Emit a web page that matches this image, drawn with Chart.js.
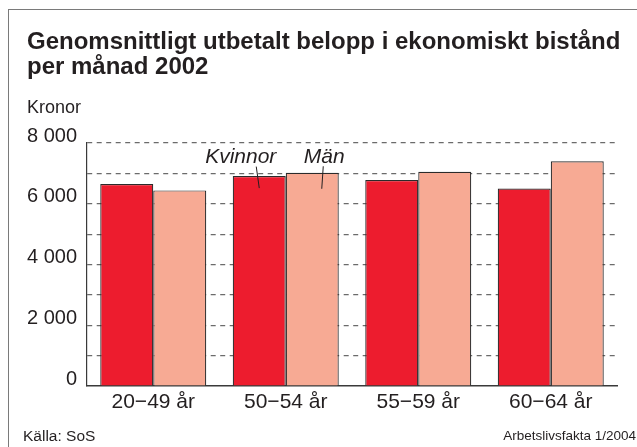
<!DOCTYPE html>
<html lang="sv">
<head>
<meta charset="utf-8">
<title>Ekonomiskt bistånd 2002</title>
<script src="https://cdn.jsdelivr.net/npm/chart.js@4/dist/chart.umd.min.js"></script>
<style>
  html, body { margin: 0; padding: 0; background: #fff; }
  body { width: 637px; height: 447px; position: relative; overflow: hidden;
         font-family: "Liberation Sans", Arial, sans-serif; color: #231f20; }
  #ram { position: absolute; left: 8px; top: 9px; right: -5px; bottom: -5px;
         border-left: 1.5px solid #7a7a7a; border-top: 1.5px solid #7a7a7a; }
  #rubrik { position: absolute; left: 27px; top: 28px; font-size: 24px; line-height: 25px;
            font-weight: bold; white-space: nowrap; }
  #enhet { position: absolute; left: 27px; top: 98px; font-size: 18px; line-height: 18px; }
  #kalla { position: absolute; left: 23px; top: 428px; font-size: 15.5px; line-height: 15px; }
  #kalla2 { position: absolute; right: 1px; top: 429px; font-size: 13.5px; line-height: 14px; }
  #diagram { position: absolute; left: 0; top: 0; width: 637px; height: 447px; }
</style>
</head>
<body>
<div id="ram"></div>
<div id="diagram"><canvas id="grafico"></canvas></div>
<div id="rubrik">Genomsnittligt utbetalt belopp i ekonomiskt bistånd<br>per månad 2002</div>
<div id="enhet">Kronor</div>
<div id="kalla">Källa: SoS</div>
<div id="kalla2">Arbetslivsfakta 1/2004</div>

<script>
// data
const kategorier = ['20\u221249 år', '50\u221254 år', '55\u221259 år', '60\u221264 år'];
const kvinnor = [6650, 6910, 6780, 6500];
const man = [6440, 7020, 7050, 7400];
const yTicks = [0, 2000, 4000, 6000, 8000];

const rod = '#ed1c2e';
const rosa = '#f7aa94';
const kant = '#2b2b2b';

function formatera(v) {
  return v >= 1000 ? String(v).replace(/(\d)(?=(\d{3})$)/, '$1 ') : String(v);
}

// etiketter Kvinnor / Män med streck ner i staplarna
const etiketter = {
  id: 'etiketter',
  afterDatasetsDraw(chart) {
    const ctx = chart.ctx;
    const k = chart.getDatasetMeta(0).data[1];
    const m = chart.getDatasetMeta(1).data[1];
    ctx.save();
    ctx.fillStyle = '#231f20';
    ctx.strokeStyle = '#231f20';
    ctx.lineWidth = 1;
    ctx.font = 'italic 21px "Liberation Sans", Arial, sans-serif';
    ctx.textAlign = 'center';
    ctx.textBaseline = 'alphabetic';
    ctx.fillText('Kvinnor', k.x - 18.5, k.y - 13);
    ctx.fillText('Män', m.x + 12, m.y - 10);
    ctx.beginPath();
    ctx.moveTo(k.x - 3, k.y - 9.5);
    ctx.lineTo(k.x, k.y + 12);
    ctx.moveTo(m.x + 11, m.y - 6.5);
    ctx.lineTo(m.x + 9.5, m.y + 16);
    ctx.stroke();
    ctx.restore();
  }
};

new Chart(document.getElementById('grafico'), {
  type: 'bar',
  data: {
    labels: kategorier,
    datasets: [
      { label: 'Kvinnor', data: kvinnor, backgroundColor: rod, borderColor: kant, borderWidth: 1.2 },
      { label: 'Män', data: man, backgroundColor: rosa, borderColor: kant, borderWidth: 1.2 }
    ]
  },
  plugins: [etiketter],
  options: {
    responsive: true,
    maintainAspectRatio: false,
    animation: false,
    layout: { padding: { top: 143, right: 20, bottom: 31, left: 0 } },
    categoryPercentage: 0.8,
    barPercentage: 1.0,
    plugins: {
      legend: { display: false },
      tooltip: { enabled: false },
      title: { display: false }
    },
    scales: {
      x: {
        grid: { display: false, drawTicks: false },
        border: { display: true, color: '#3a3a3a', width: 1.5 },
        ticks: {
          color: '#231f20',
          font: { family: '"Liberation Sans", Arial, sans-serif', size: 21 },
          padding: 4,
          maxRotation: 0
        },
        afterFit(scale) { scale.height = 30; }
      },
      y: {
        min: 0,
        max: 8000,
        afterFit(scale) { scale.width = 87; },
        afterBuildTicks(scale) {
          const t = [];
          for (let v = 0; v <= 8000; v += 1000) t.push({ value: v });
          scale.ticks = t;
        },
        grid: {
          drawTicks: false,
          color: ctx => ctx.tick && ctx.tick.value === 0 ? 'rgba(0,0,0,0)' : '#6b6b6b',
          lineWidth: 1.2
        },
        border: { display: true, color: '#3a3a3a', width: 1.2, dash: [5, 4.5] },
        ticks: {
          color: '#231f20',
          font: { family: '"Liberation Sans", Arial, sans-serif', size: 20 },
          padding: 10,
          labelOffset: -7,
          callback: v => yTicks.includes(v) ? formatera(v) : ''
        }
      }
    }
  }
});
</script>
</body>
</html>
